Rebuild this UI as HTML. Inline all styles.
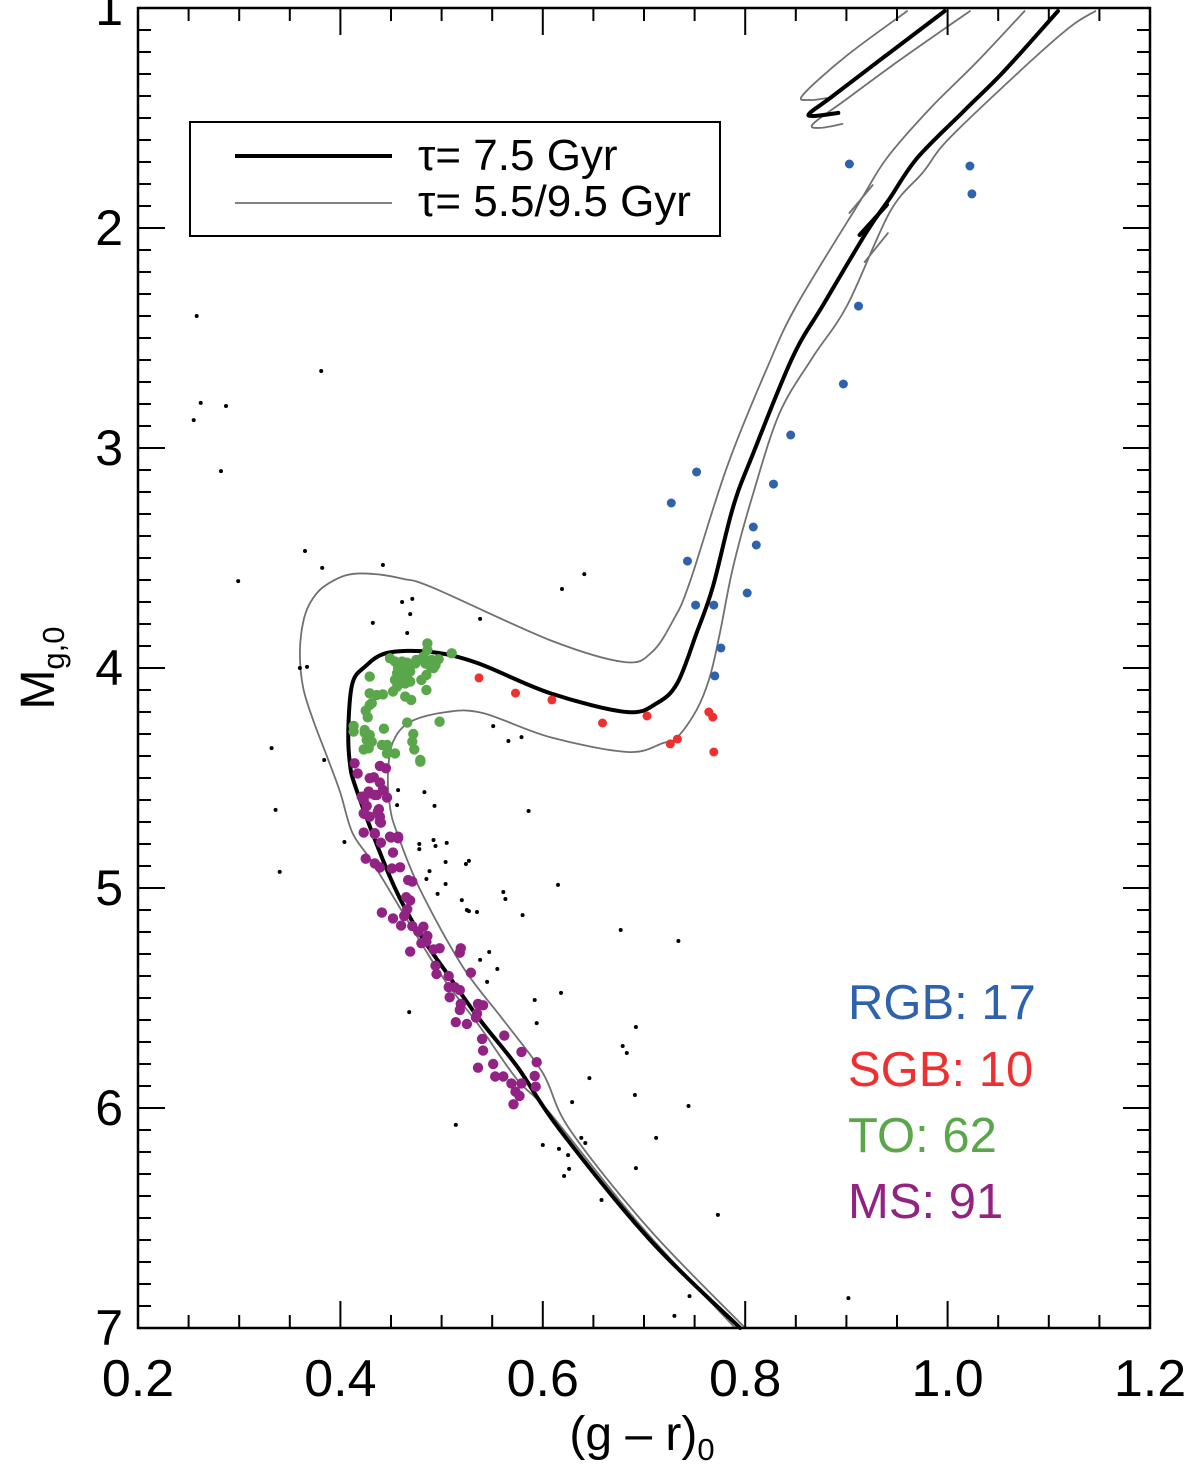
<!DOCTYPE html>
<html><head><meta charset="utf-8"><title>CMD isochrones</title>
<style>
html,body{margin:0;padding:0;background:#fff;}
svg{display:block;font-family:"Liberation Sans",Arial,sans-serif;}
</style></head>
<body>
<svg id="chart" width="1200" height="1464" viewBox="0 0 1200 1464" xmlns="http://www.w3.org/2000/svg">
<g id="lines"></g>
<g id="pts"></g>
<g id="axes"></g>
<g id="legend">
  <rect x="190" y="122" width="530" height="114" fill="#fff" stroke="#000" stroke-width="2"/>
  <line x1="235" y1="156" x2="392" y2="156" stroke="#000" stroke-width="4"/>
  <text x="418" y="170" font-size="44">τ= 7.5 Gyr</text>
  <line x1="235" y1="203" x2="392" y2="203" stroke="#707070" stroke-width="1.8"/>
  <text x="418" y="216" font-size="44">τ= 5.5/9.5 Gyr</text>
</g>
<g font-size="49">
  <text x="848" y="1019" fill="#2f62ac">RGB: 17</text>
  <text x="848" y="1086" fill="#ee3030">SGB: 10</text>
  <text x="848" y="1152" fill="#5aa64a">TO: 62</text>
  <text x="848" y="1218" fill="#922283">MS: 91</text>
</g>
<text x="642" y="1450" font-size="48" text-anchor="middle">(g – r)<tspan font-size="31" dy="10">0</tspan></text>
<text transform="translate(54,668) rotate(-90)" font-size="48" text-anchor="middle">M<tspan font-size="31" dy="10">g,0</tspan></text>
</svg>
<script>
// ---- data ----
const xTicks = [0.2,0.4,0.6,0.8,1.0,1.2];
const xTickLabels = ["0.2","0.4","0.6","0.8","1.0","1.2"];
const yTicks = [1,2,3,4,5,6,7];
const yTickLabels = ["1","2","3","4","5","6","7"];

const iso75_gr = [1.109,1.055,1.015,0.970,0.943,0.920,0.877,0.847,0.808,0.788,0.768,0.752,0.733,0.713,0.683,0.607,0.535,0.489,0.446,0.424,0.412,0.408,0.409,0.416,0.449,0.476,0.505,0.538,0.575,0.617,0.706,0.795];
const iso75_M  = [1.014,1.291,1.473,1.682,1.864,2.018,2.350,2.586,3.023,3.268,3.632,3.841,4.068,4.159,4.200,4.114,3.977,3.927,3.932,3.995,4.068,4.250,4.418,4.555,4.950,5.191,5.386,5.600,5.814,6.100,6.600,7.000];
const iso75hb_gr = [0.997,0.936,0.884,0.864,0.867,0.892];
const iso75hb_M  = [1.014,1.227,1.409,1.477,1.491,1.477];
const iso75seg_gr = [0.913,0.940];
const iso75seg_M  = [2.032,1.895];

const isoA_gr = [1.076,1.029,0.983,0.940,0.913,0.851,0.822,0.782,0.745,0.729,0.708,0.681,0.607,0.492,0.462,0.434,0.407,0.383,0.370,0.363,0.360,0.363,0.373,0.387,0.400,0.412,0.432,0.466,0.501,0.538,0.575,0.607,0.696,0.790];
const isoA_M  = [1.014,1.245,1.455,1.682,1.882,2.350,2.632,3.086,3.614,3.782,3.927,3.973,3.873,3.636,3.595,3.573,3.577,3.632,3.705,3.795,3.932,4.086,4.236,4.405,4.568,4.750,4.886,5.145,5.405,5.632,5.873,6.023,6.532,7.000];
const isoB_gr = [1.146,1.121,1.078,1.002,0.976,0.943,0.901,0.867,0.834,0.808,0.788,0.775,0.765,0.752,0.733,0.719,0.684,0.607,0.541,0.505,0.469,0.452,0.447,0.449,0.456,0.479,0.521,0.561,0.600,0.627,0.706,0.800];
const isoB_M  = [1.014,1.086,1.259,1.591,1.745,1.927,2.350,2.586,2.841,3.205,3.541,3.841,4.041,4.191,4.314,4.341,4.382,4.314,4.205,4.200,4.245,4.336,4.477,4.632,4.750,5.009,5.359,5.600,5.841,6.100,6.555,7.000];
const isoAhb_gr = [0.960,0.901,0.857,0.864,0.881];
const isoAhb_M  = [1.014,1.214,1.395,1.418,1.409];
const isoBhb_gr = [1.022,0.953,0.899,0.867,0.874,0.896];
const isoBhb_M  = [1.014,1.236,1.418,1.527,1.545,1.527];
const isoAseg_gr = [0.903,0.926];
const isoAseg_M  = [1.932,1.805];
const isoBseg_gr = [0.918,0.941];
const isoBseg_M  = [2.155,2.023];

const rgb_gr = [0.903,1.022,1.024,0.912,0.897,0.845,0.828,0.752,0.727,0.808,0.811,0.743,0.802,0.751,0.769,0.776,0.770];
const rgb_M  = [1.709,1.718,1.845,2.355,2.709,2.941,3.164,3.109,3.250,3.359,3.441,3.514,3.659,3.714,3.714,3.909,4.036];
const sgb_gr = [0.537,0.573,0.609,0.659,0.703,0.764,0.768,0.733,0.726,0.769];
const sgb_M  = [4.045,4.114,4.145,4.250,4.218,4.200,4.223,4.323,4.345,4.382];
const to_gr = [0.486,0.486,0.482,0.490,0.497,0.510,0.454,0.461,0.466,0.474,0.457,0.462,0.469,0.489,0.492,0.456,0.461,0.466,0.485,0.480,0.454,0.459,0.464,0.469,0.429,0.485,0.452,0.429,0.436,0.442,0.464,0.470,0.431,0.429,0.425,0.427,0.466,0.498,0.413,0.413,0.443,0.424,0.429,0.472,0.471,0.426,0.431,0.423,0.428,0.441,0.446,0.473,0.446,0.454,0.479,0.479,0.494,0.484,0.456,0.424,0.475,0.449];
const to_M  = [3.888,3.918,3.948,3.963,3.960,3.933,3.971,3.971,3.976,3.979,4.001,3.994,4.016,3.994,4.001,4.024,4.039,4.032,4.032,4.054,4.054,4.070,4.070,4.062,4.039,4.100,4.107,4.115,4.123,4.120,4.130,4.145,4.160,4.168,4.194,4.224,4.248,4.244,4.263,4.289,4.276,4.294,4.304,4.300,4.335,4.327,4.335,4.370,4.365,4.350,4.350,4.370,4.388,4.388,4.418,4.426,3.986,3.979,4.085,4.282,3.963,3.956];
const ms_gr = [0.414,0.417,0.439,0.445,0.429,0.433,0.439,0.442,0.428,0.423,0.434,0.446,0.426,0.438,0.424,0.439,0.429,0.440,0.423,0.434,0.449,0.457,
 0.440,0.425,0.452,0.434,0.439,0.451,0.459,0.467,0.471,0.465,0.469,0.466,0.441,0.452,0.463,0.460,0.471,0.482,0.477,0.486,0.480,0.485,0.469,0.492,0.498,0.519,0.518,0.494,0.495,0.507,0.529,0.507,0.513,0.518,0.508,0.519,0.518,0.536,0.541,0.535,0.514,0.525,0.534,0.540,0.541,0.562,0.579,0.536,0.551,0.553,0.561,0.594,0.592,0.593,0.569,0.579,0.573,0.577,0.571,
 0.423,0.428,0.436,0.421,0.437,0.439,0.423,0.434,0.450,0.457];
const ms_M = [4.433,4.479,4.445,4.456,4.501,4.497,4.521,4.554,4.562,4.585,4.577,4.589,4.627,4.642,4.663,4.676,4.676,4.703,4.748,4.754,4.767,4.767,
 4.794,4.867,4.839,4.888,4.907,4.911,4.906,4.964,4.971,5.042,5.057,5.097,5.112,5.138,5.127,5.171,5.173,5.176,5.198,5.218,5.251,5.244,5.289,5.279,5.274,5.274,5.294,5.353,5.391,5.400,5.385,5.451,5.451,5.464,5.497,5.527,5.554,5.527,5.533,5.570,5.610,5.618,5.589,5.686,5.739,5.671,5.745,5.817,5.800,5.857,5.857,5.792,5.854,5.903,5.888,5.888,5.926,5.945,5.983,
 4.600,4.570,4.577,4.585,4.653,4.698,4.661,4.751,4.770,4.774];
const field_gr = [0.258,0.255,0.262,0.287,0.282,0.299,0.365,0.381,0.382,0.442,0.360,0.367,0.332,0.336,0.340,0.461,0.471,0.469,0.432,0.466,0.538,0.384,0.551,0.566,0.579,0.641,0.619,
 0.457,0.483,0.456,0.493,0.586,0.404,0.478,0.478,0.492,0.494,0.505,0.504,0.524,0.527,0.488,0.485,0.504,0.496,0.520,0.525,0.527,0.535,0.561,0.563,0.580,0.615,0.677,0.547,0.538,0.555,0.545,0.468,0.592,0.618,0.594,0.679,0.683,0.646,0.629,0.514,
 0.734,0.692,0.691,0.744,0.712,0.600,0.638,0.642,0.616,0.625,0.626,0.621,0.692,0.658,0.773,0.745,0.730,0.902];
const field_M = [2.400,2.873,2.795,2.809,3.105,3.605,3.468,2.650,3.545,3.532,4.000,3.995,4.364,4.645,4.927,3.700,3.686,3.755,3.795,3.841,3.777,4.418,4.264,4.332,4.314,3.573,3.641,
 4.555,4.564,4.623,4.627,4.650,4.791,4.800,4.823,4.782,4.809,4.795,4.882,4.891,4.877,4.923,4.959,4.982,5.027,5.055,5.100,5.105,5.109,5.018,5.050,5.123,4.986,5.191,5.291,5.327,5.368,5.427,5.564,5.509,5.477,5.614,5.718,5.750,5.864,5.973,6.077,
 5.241,5.632,5.941,5.991,6.136,6.168,6.136,6.159,6.186,6.214,6.277,6.309,6.273,6.418,6.486,6.855,6.945,6.864];

// ---- axes mapping ----
const X0 = 138, X1 = 1150, Y0 = 8, Y1 = 1328;
function sx(v){ return X0 + (v - 0.2) / 1.0 * (X1 - X0); }
function sy(v){ return Y0 + (v - 1) / 6 * (Y1 - Y0); }
const NS = "http://www.w3.org/2000/svg";
function mk(tag, attrs, parent){ const e = document.createElementNS(NS, tag); for (const k in attrs) e.setAttribute(k, attrs[k]); parent.appendChild(e); return e; }

const gl = document.getElementById('lines');
function drawLine(gr, M, color, w, name){
  const P = gr.map((g, i) => [sx(g), sy(M[i])]);
  let d = 'M' + P[0][0].toFixed(1) + ',' + P[0][1].toFixed(1);
  for (let i = 0; i < P.length - 1; i++){
    const p0 = P[Math.max(0, i - 1)], p1 = P[i], p2 = P[i + 1], p3 = P[Math.min(P.length - 1, i + 2)];
    const t = 0.5 / 3;
    const c1 = [p1[0] + (p2[0] - p0[0]) * t, p1[1] + (p2[1] - p0[1]) * t];
    const c2 = [p2[0] - (p3[0] - p1[0]) * t, p2[1] - (p3[1] - p1[1]) * t];
    d += 'C' + c1[0].toFixed(1) + ',' + c1[1].toFixed(1) + ' ' + c2[0].toFixed(1) + ',' + c2[1].toFixed(1) + ' ' + p2[0].toFixed(1) + ',' + p2[1].toFixed(1);
  }
  const p = mk('path', {d: d, fill: 'none', stroke: color, 'stroke-width': w, 'stroke-linejoin': 'round', 'stroke-linecap': 'round'}, gl);
  
  
}
const GRAY = '#707070';
drawLine(isoA_gr, isoA_M, GRAY, 1.8, 'isochrone-5p5-gyr');
drawLine(isoB_gr, isoB_M, GRAY, 1.8, 'isochrone-9p5-gyr');
drawLine(isoAhb_gr, isoAhb_M, GRAY, 1.8, 'isochrone-5p5-branch');
drawLine(isoBhb_gr, isoBhb_M, GRAY, 1.8, 'isochrone-9p5-branch');
drawLine(isoAseg_gr, isoAseg_M, GRAY, 1.8, 'isochrone-5p5-bump');
drawLine(isoBseg_gr, isoBseg_M, GRAY, 1.8, 'isochrone-9p5-bump');
drawLine(iso75_gr, iso75_M, '#000', 4, 'isochrone-7p5-gyr');
drawLine(iso75hb_gr, iso75hb_M, '#000', 4, 'isochrone-7p5-branch');
drawLine(iso75seg_gr, iso75seg_M, '#000', 4, 'isochrone-7p5-bump');

const gp = document.getElementById('pts');
function drawPts(gr, M, color, r, name){
  for (let i = 0; i < gr.length; i++){
    const c = mk('circle', {cx: sx(gr[i]).toFixed(1), cy: sy(M[i]).toFixed(1), r: r, fill: color}, gp);
    
    
  }
}
drawPts(field_gr, field_M, '#000', 2, 'field-star');
drawPts(ms_gr, ms_M, '#922283', 5.2, 'ms-star');
drawPts(to_gr, to_M, '#5aa64a', 5.2, 'to-star');
drawPts(sgb_gr, sgb_M, '#ee3030', 4.5, 'sgb-star');
drawPts(rgb_gr, rgb_M, '#2f62ac', 4.5, 'rgb-star');

// ---- axes ----
const ga = document.getElementById('axes');
const frame = mk('rect', {x: X0, y: Y0, width: X1 - X0, height: Y1 - Y0, fill: 'none', stroke: '#000', 'stroke-width': 2.5}, ga);


for (let k = 0; k <= 20; k++){
  const v = 0.2 + k * 0.05, x = sx(v), major = (k % 4 === 0), L = major ? 27 : 13;
  const t1 = mk('line', {x1: x, y1: Y1, x2: x, y2: Y1 - L, stroke: '#000', 'stroke-width': 2}, ga);
  
  
  const t2 = mk('line', {x1: x, y1: Y0, x2: x, y2: Y0 + L, stroke: '#000', 'stroke-width': 2}, ga);
  
  
}
xTicks.forEach((v, i) => {
  const t = mk('text', {x: sx(v), y: 1396, 'font-size': 52, 'text-anchor': 'middle'}, ga);
  t.textContent = xTickLabels[i];
  
  
});
for (let k = 0; k <= 60; k++){
  const v = 1 + k * 0.1, y = sy(v), major = (k % 10 === 0), L = major ? 27 : 13;
  const t1 = mk('line', {x1: X0, y1: y, x2: X0 + L, y2: y, stroke: '#000', 'stroke-width': 2}, ga);
  
  
  const t2 = mk('line', {x1: X1, y1: y, x2: X1 - L, y2: y, stroke: '#000', 'stroke-width': 2}, ga);
  
  
}
yTicks.forEach((v, i) => {
  const t = mk('text', {x: 123, y: sy(v) + 17, 'font-size': 50, 'text-anchor': 'end'}, ga);
  t.textContent = yTickLabels[i];
  
  
});
</script>
</body></html>
